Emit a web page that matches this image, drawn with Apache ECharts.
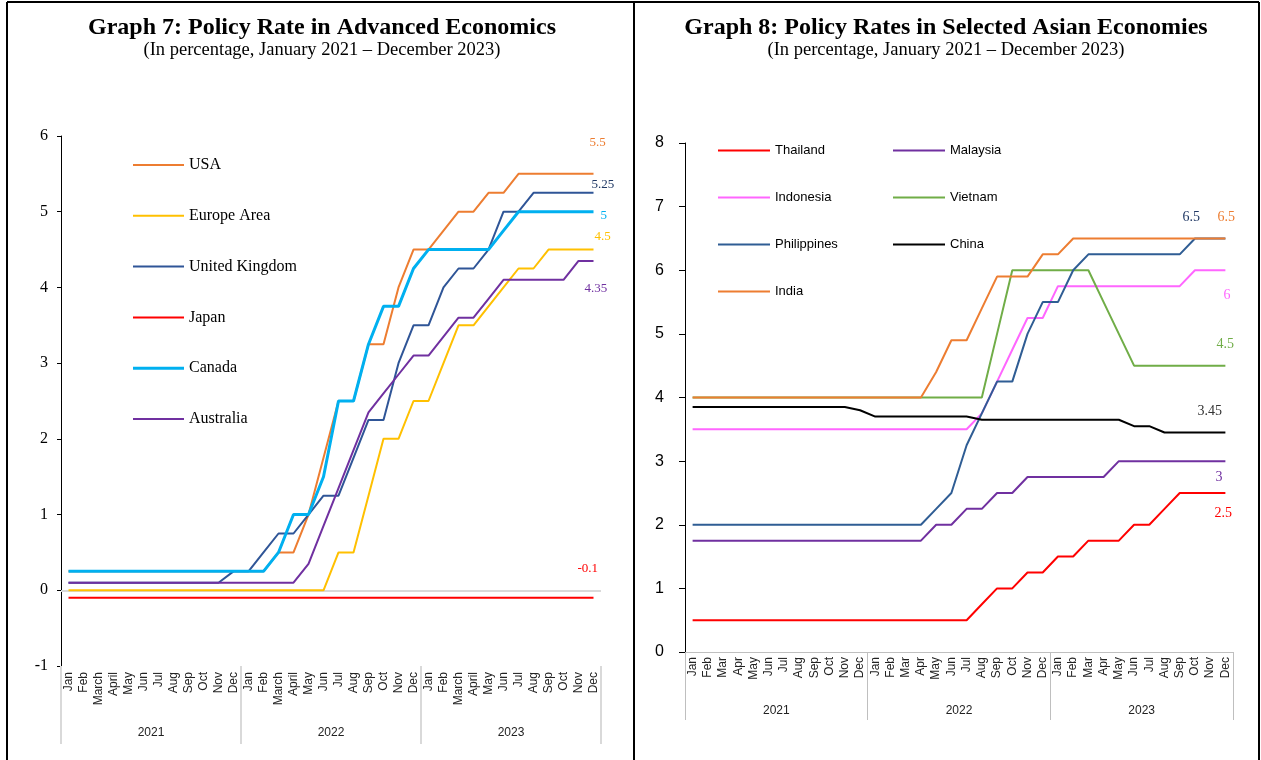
<!DOCTYPE html>
<html>
<head>
<meta charset="utf-8">
<script src="https://cdn.jsdelivr.net/npm/echarts@6/dist/echarts.min.js"></script>
<style>
  html, body { margin: 0; padding: 0; background: #fff; }
  #chart { width: 1261px; height: 760px; }
</style>
</head>
<body>
<div id="chart"></div>
<script>
// ---- Graph 7: advanced economies (monthly policy rates, Jan 2021 – Dec 2023) ----
const monthsAdvanced = ['Jan','Feb','March','April','May','Jun','Jul','Aug','Sep','Oct','Nov','Dec',
                        'Jan','Feb','March','April','May','Jun','Jul','Aug','Sep','Oct','Nov','Dec',
                        'Jan','Feb','March','April','May','Jun','Jul','Aug','Sep','Oct','Nov','Dec'];
const years = ['2021', '2022', '2023'];

const usaRate = [0.25,0.25,0.25,0.25,0.25,0.25,0.25,0.25,0.25,0.25,0.25,0.25,
                 0.25,0.25,0.5,0.5,1.0,1.75,2.5,2.5,3.25,3.25,4.0,4.5,
                 4.5,4.75,5.0,5.0,5.25,5.25,5.5,5.5,5.5,5.5,5.5,5.5];
const europeRate = [0,0,0,0,0,0,0,0,0,0,0,0,
                    0,0,0,0,0,0,0.5,0.5,1.25,2.0,2.0,2.5,
                    2.5,3.0,3.5,3.5,3.75,4.0,4.25,4.25,4.5,4.5,4.5,4.5];
const ukRate = [0.1,0.1,0.1,0.1,0.1,0.1,0.1,0.1,0.1,0.1,0.1,0.25,
                0.25,0.5,0.75,0.75,1.0,1.25,1.25,1.75,2.25,2.25,3.0,3.5,
                3.5,4.0,4.25,4.25,4.5,5.0,5.0,5.25,5.25,5.25,5.25,5.25];
const japanRate = [-0.1,-0.1,-0.1,-0.1,-0.1,-0.1,-0.1,-0.1,-0.1,-0.1,-0.1,-0.1,
                   -0.1,-0.1,-0.1,-0.1,-0.1,-0.1,-0.1,-0.1,-0.1,-0.1,-0.1,-0.1,
                   -0.1,-0.1,-0.1,-0.1,-0.1,-0.1,-0.1,-0.1,-0.1,-0.1,-0.1,-0.1];
const canadaRate = [0.25,0.25,0.25,0.25,0.25,0.25,0.25,0.25,0.25,0.25,0.25,0.25,
                    0.25,0.25,0.5,1.0,1.0,1.5,2.5,2.5,3.25,3.75,3.75,4.25,
                    4.5,4.5,4.5,4.5,4.5,4.75,5.0,5.0,5.0,5.0,5.0,5.0];
const australiaRate = [0.1,0.1,0.1,0.1,0.1,0.1,0.1,0.1,0.1,0.1,0.1,0.1,
                       0.1,0.1,0.1,0.1,0.35,0.85,1.35,1.85,2.35,2.6,2.85,3.1,
                       3.1,3.35,3.6,3.6,3.85,4.1,4.1,4.1,4.1,4.1,4.35,4.35];

// ---- Graph 8: selected Asian economies ----
const monthsAsian = ['Jan','Feb','Mar','Apr','May','Jun','Jul','Aug','Sep','Oct','Nov','Dec',
                     'Jan','Feb','Mar','Apr','May','Jun','Jul','Aug','Sep','Oct','Nov','Dec',
                     'Jan','Feb','Mar','Apr','May','Jun','Jul','Aug','Sep','Oct','Nov','Dec'];

const thailandRate = [0.5,0.5,0.5,0.5,0.5,0.5,0.5,0.5,0.5,0.5,0.5,0.5,
                      0.5,0.5,0.5,0.5,0.5,0.5,0.5,0.75,1.0,1.0,1.25,1.25,
                      1.5,1.5,1.75,1.75,1.75,2.0,2.0,2.25,2.5,2.5,2.5,2.5];
const malaysiaRate = [1.75,1.75,1.75,1.75,1.75,1.75,1.75,1.75,1.75,1.75,1.75,1.75,
                      1.75,1.75,1.75,1.75,2.0,2.0,2.25,2.25,2.5,2.5,2.75,2.75,
                      2.75,2.75,2.75,2.75,3.0,3.0,3.0,3.0,3.0,3.0,3.0,3.0];
const indonesiaRate = [3.5,3.5,3.5,3.5,3.5,3.5,3.5,3.5,3.5,3.5,3.5,3.5,
                       3.5,3.5,3.5,3.5,3.5,3.5,3.5,3.75,4.25,4.75,5.25,5.25,
                       5.75,5.75,5.75,5.75,5.75,5.75,5.75,5.75,5.75,6.0,6.0,6.0];
const vietnamRate = [4.0,4.0,4.0,4.0,4.0,4.0,4.0,4.0,4.0,4.0,4.0,4.0,
                     4.0,4.0,4.0,4.0,4.0,4.0,4.0,4.0,5.0,6.0,6.0,6.0,
                     6.0,6.0,6.0,5.5,5.0,4.5,4.5,4.5,4.5,4.5,4.5,4.5];
const philippinesRate = [2.0,2.0,2.0,2.0,2.0,2.0,2.0,2.0,2.0,2.0,2.0,2.0,
                         2.0,2.0,2.0,2.0,2.25,2.5,3.25,3.75,4.25,4.25,5.0,5.5,
                         5.5,6.0,6.25,6.25,6.25,6.25,6.25,6.25,6.25,6.5,6.5,6.5];
const chinaRate = [3.85,3.85,3.85,3.85,3.85,3.85,3.85,3.85,3.85,3.85,3.85,3.8,
                   3.7,3.7,3.7,3.7,3.7,3.7,3.7,3.65,3.65,3.65,3.65,3.65,
                   3.65,3.65,3.65,3.65,3.65,3.55,3.55,3.45,3.45,3.45,3.45,3.45];
const indiaRate = [4.0,4.0,4.0,4.0,4.0,4.0,4.0,4.0,4.0,4.0,4.0,4.0,
                   4.0,4.0,4.0,4.0,4.4,4.9,4.9,5.4,5.9,5.9,5.9,6.25,
                   6.25,6.5,6.5,6.5,6.5,6.5,6.5,6.5,6.5,6.5,6.5,6.5];

const SERIF = "'Liberation Serif', 'Times New Roman', serif";
const SANS = "'Liberation Sans', Arial, sans-serif";

// series styling: name, data, colour, line width, end-label colour and offset
const advancedSeries = [
  { name: 'USA',            data: usaRate,       color: '#ED7D31', width: 2, labelColor: '#ED7D31', offset: [-4, -31] },
  { name: 'Europe Area',    data: europeRate,    color: '#FFC000', width: 2, labelColor: '#FFC000', offset: [1, -13] },
  { name: 'United Kingdom', data: ukRate,        color: '#2F5597', width: 2, labelColor: '#1F3864', offset: [-2, -8] },
  { name: 'Japan',          data: japanRate,     color: '#FF0000', width: 2, labelColor: '#FF0000', offset: [-16, -29] },
  { name: 'Canada',         data: canadaRate,    color: '#00B0F0', width: 3, labelColor: '#00B0F0', offset: [7, 4] },
  { name: 'Australia',      data: australiaRate, color: '#7030A0', width: 2, labelColor: '#7030A0', offset: [-9, 28] }
];
const asianSeries = [
  { name: 'Thailand',    data: thailandRate,    color: '#FF0000', width: 2, labelColor: '#FF0000', offset: [-11, 20] },
  { name: 'Malaysia',    data: malaysiaRate,    color: '#7030A0', width: 2, labelColor: '#7030A0', offset: [-10, 16] },
  { name: 'Indonesia',   data: indonesiaRate,   color: '#FF66FF', width: 2, labelColor: '#FF66FF', offset: [-2, 25] },
  { name: 'Vietnam',     data: vietnamRate,     color: '#70AD47', width: 2, labelColor: '#70AD47', offset: [-9, -21] },
  { name: 'Philippines', data: philippinesRate, color: '#2F5D94', width: 2, labelColor: '#203864', offset: [-43, -21] },
  { name: 'China',       data: chinaRate,       color: '#000000', width: 2, labelColor: '#333333', offset: [-28, -21] },
  { name: 'India',       data: indiaRate,       color: '#ED7D31', width: 2, labelColor: '#ED7D31', offset: [-8, -21] }
];

// legend key: a plain bar whose thickness follows the series line width
const legendKey = w => 'path://M0,0 H50 V' + w + ' H0 Z';

function lineSeries(s, axisIdx, fontSize) {
  return {
    type: 'line',
    name: s.name,
    data: s.data,
    xAxisIndex: axisIdx,
    yAxisIndex: axisIdx === 0 ? 0 : 1,
    symbol: 'none',
    smooth: false,
    color: s.color,
    lineStyle: { color: s.color, width: s.width },
    endLabel: {
      show: true,
      distance: 0,
      offset: s.offset,
      formatter: p => String(p.value),
      color: s.labelColor,
      fontFamily: SERIF,
      fontSize: fontSize
    },
    emphasis: { disabled: true }
  };
}

const series = [];
advancedSeries.forEach(s => series.push(lineSeries(s, 0, 13)));
asianSeries.forEach(s => series.push(lineSeries(s, 2, 14)));
// zero reference line of Graph 7
series[0].markLine = {
  silent: true,
  symbol: 'none',
  label: { show: false },
  lineStyle: { color: '#d9d9d9', width: 2, type: 'solid' },
  data: [{ yAxis: 0 }],
  z: 1
};

const legendData = list => list.map(s => ({ name: s.name, icon: legendKey(s.width) }));

const monthAxis = (data, gridIndex, margin, showLine) => ({
  type: 'category',
  gridIndex: gridIndex,
  data: data,
  boundaryGap: true,
  position: 'bottom',
  axisLine: { show: showLine, onZero: false, lineStyle: { color: '#bfbfbf', width: 1 } },
  axisTick: { show: false },
  axisLabel: { interval: 0, rotate: 90, margin: margin, fontFamily: SANS, fontSize: 12, color: '#222' },
  splitLine: { show: false }
});
const yearAxis = (gridIndex, tickLen, labelMargin, tickColor, tickWidth) => ({
  type: 'category',
  gridIndex: gridIndex,
  data: years,
  boundaryGap: true,
  position: 'bottom',
  axisLine: { show: false, onZero: false },
  axisTick: { show: true, length: tickLen, lineStyle: { color: tickColor, width: tickWidth } },
  axisLabel: { margin: labelMargin, fontFamily: SANS, fontSize: 12, color: '#222' },
  splitLine: { show: false }
});

const titleStyle = { fontFamily: SERIF, fontWeight: 'bold', fontSize: 24, color: '#000' };
const subtitleStyle = { fontFamily: SERIF, fontSize: 18.5, color: '#000' };

const option = {
  animation: false,
  backgroundColor: '#ffffff',
  title: [
    {
      text: 'Graph 7: Policy Rate in Advanced Economics',
      subtext: '(In percentage, January 2021 – December 2023)',
      left: 322, top: 16, padding: 0, textAlign: 'center', itemGap: 1,
      textStyle: titleStyle, subtextStyle: subtitleStyle
    },
    {
      text: 'Graph 8: Policy Rates in Selected Asian Economies',
      subtext: '(In percentage, January 2021 – December 2023)',
      left: 946, top: 16, padding: 0, textAlign: 'center', itemGap: 1,
      textStyle: titleStyle, subtextStyle: subtitleStyle
    }
  ],
  legend: [
    {
      orient: 'vertical', left: 133, top: 157, padding: 0,
      itemWidth: 51, itemHeight: 14, itemGap: 34.8,
      data: legendData(advancedSeries),
      textStyle: { fontFamily: SERIF, fontSize: 16, color: '#000' },
      selectedMode: false
    },
    {
      orient: 'vertical', left: 718, top: 144, padding: 0,
      itemWidth: 52, itemHeight: 14, itemGap: 34,
      data: legendData([asianSeries[0], asianSeries[2], asianSeries[4], asianSeries[6]]),
      textStyle: { fontFamily: SANS, fontSize: 13, color: '#000' },
      selectedMode: false
    },
    {
      orient: 'vertical', left: 893, top: 144, padding: 0,
      itemWidth: 52, itemHeight: 14, itemGap: 34,
      data: legendData([asianSeries[1], asianSeries[3], asianSeries[5]]),
      textStyle: { fontFamily: SANS, fontSize: 13, color: '#000' },
      selectedMode: false
    }
  ],
  grid: [
    { left: 61, top: 136, width: 540, height: 530, containLabel: false },
    { left: 685, top: 143, width: 548, height: 509, containLabel: false }
  ],
  xAxis: [
    monthAxis(monthsAdvanced, 0, 6, false),
    yearAxis(0, 78, 61, '#d9d9d9', 2),
    monthAxis(monthsAsian, 1, 5, true),
    yearAxis(1, 68, 53, '#bfbfbf', 1)
  ],
  yAxis: [
    {
      type: 'value', gridIndex: 0, min: -1, max: 6, interval: 1,
      axisLine: { show: true, onZero: false, lineStyle: { color: '#000', width: 1 } },
      axisTick: { show: true, length: 4, lineStyle: { color: '#000' } },
      axisLabel: { margin: 13, fontFamily: SERIF, fontSize: 16, color: '#000' },
      splitLine: { show: false }
    },
    {
      type: 'value', gridIndex: 1, min: 0, max: 8, interval: 1,
      axisLine: { show: true, onZero: false, lineStyle: { color: '#000', width: 1 } },
      axisTick: { show: true, length: 6, lineStyle: { color: '#000' } },
      axisLabel: { margin: 21, fontFamily: SANS, fontSize: 16, color: '#000' },
      splitLine: { show: false }
    }
  ],
  graphic: [
    { type: 'line', shape: { x1: 7, y1: 2, x2: 1259, y2: 2 }, style: { stroke: '#000', lineWidth: 2 }, silent: true },
    { type: 'line', shape: { x1: 7, y1: 2, x2: 7, y2: 760 }, style: { stroke: '#000', lineWidth: 2 }, silent: true },
    { type: 'line', shape: { x1: 634, y1: 2, x2: 634, y2: 760 }, style: { stroke: '#000', lineWidth: 2 }, silent: true },
    { type: 'line', shape: { x1: 1259, y1: 2, x2: 1259, y2: 760 }, style: { stroke: '#000', lineWidth: 2 }, silent: true }
  ],
  series: series
};

const chart = echarts.init(document.getElementById('chart'));
chart.setOption(option);
</script>
</body>
</html>
